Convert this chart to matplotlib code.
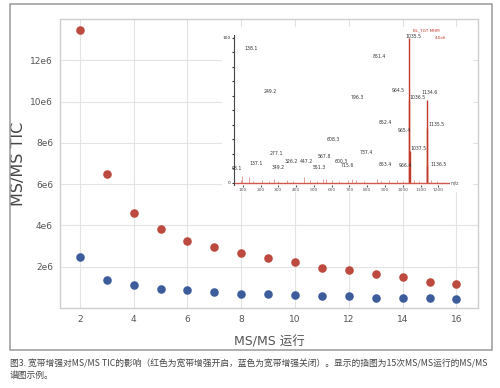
import matplotlib
matplotlib.use("Agg")
import matplotlib.pyplot as plt
from matplotlib.patches import Rectangle
from matplotlib.ticker import FuncFormatter

plt.rcParams['font.family'] = ['DejaVu Sans', 'Noto Sans CJK SC']

# 主图数据：MS/MS 运行次数 与 TIC
runs = [2, 3, 4, 5, 6, 7, 8, 9, 10, 11, 12, 13, 14, 15, 16]
tic_on = [13.45e6, 6.48e6, 4.59e6, 3.82e6, 3.23e6, 2.94e6, 2.67e6, 2.40e6,
          2.22e6, 1.94e6, 1.86e6, 1.67e6, 1.49e6, 1.26e6, 1.14e6]
tic_off = [2.46e6, 1.36e6, 1.10e6, 0.94e6, 0.86e6, 0.78e6, 0.70e6, 0.67e6,
           0.62e6, 0.57e6, 0.57e6, 0.50e6, 0.50e6, 0.48e6, 0.46e6]
x_ticks = [2, 4, 6, 8, 10, 12, 14, 16]
y_ticks = [2e6, 4e6, 6e6, 8e6, 10e6, 12e6]

# 插图：谱峰 (m/z, 相对强度)
peak_mz = [1035.5, 1036.5, 1037.5, 1134.6, 1135.5, 1136.5]
peak_int = [100, 57, 22, 57, 38, 12]
noise_mz = [88, 98, 137, 160, 210, 250, 277, 300, 349, 380, 447, 480, 520,
            551, 568, 600, 640, 690, 716, 737, 780, 853, 880, 920, 966, 1000,
            1060, 1090, 1160, 1190, 1230]
noise_int = [2, 5, 4, 1.5, 2, 1.5, 3, 1.5, 2, 1.5, 4, 2, 1.5, 3, 3, 2, 1.5,
             2, 3, 2, 1.5, 3, 1.5, 2, 2, 1.5, 2, 1.5, 2, 1.5, 1]
inset_ticks = [100, 200, 300, 400, 500, 600, 700, 800, 900, 1000, 1100, 1200]

label_text = ['138.1', '249.2', '796.3', '851.4', '964.5', '1035.5', '1134.6',
              '1036.5', '852.4', '965.4', '1135.5', '608.3', '277.1', '737.4',
              '1037.5', '326.2', '447.2', '567.8', '600.3', '349.2', '551.3',
              '715.6', '98.1', '137.1', '853.4', '966.4', '1136.5']
label_x = [145, 253, 746, 866, 972, 1057, 1152, 1085, 899, 1006, 1190, 607, 291,
           793, 1090, 372, 456, 557, 656, 300, 528, 690, 66, 175, 903, 1016, 1199]
label_y = [93, 63, 59, 87, 64, 101, 62.5, 58.6, 41.6, 36, 40, 30, 20.5, 21,
           23.5, 15, 14.7, 18, 15, 10.5, 11, 11.7, 10, 13.6, 13, 12, 13]

red = '#bc4a3e'
blue = '#3d5c9c'

fig = plt.figure(figsize=(5, 3.88), dpi=100)

# 外框
fig.patches.append(Rectangle((10 / 500, 1 - 350 / 388), 482 / 500, 346 / 388,
                             transform=fig.transFigure, fill=False,
                             edgecolor='#9a9a9a', linewidth=1.1, zorder=0))

ax = fig.add_axes([60 / 500, 1 - 308 / 388, 418 / 500, 289 / 388])
ax.scatter(runs, tic_on, s=38, color=red, zorder=3, linewidths=0)
ax.scatter(runs, tic_off, s=38, color=blue, zorder=3, linewidths=0)
ax.set_xlim(1.26, 16.8)
ax.set_ylim(0, 14e6)
ax.set_xticks(x_ticks)
ax.set_yticks(y_ticks)
ax.yaxis.set_major_formatter(FuncFormatter(lambda v, p: f"{int(round(v / 1e6))}e6"))
ax.tick_params(length=0, labelsize=6.5, colors='#555555', pad=5)
ax.grid(True, color='#e3e3e3', linewidth=0.8)
ax.set_axisbelow(True)
for s in ax.spines.values():
    s.set_color('#cfcfcf')
    s.set_linewidth(1.0)
ax.set_ylabel('MS/MS TIC', fontsize=11.5, color='#444444', labelpad=3)
ax.set_xlabel('MS/MS 运行', fontsize=9, color='#555555', labelpad=8)

# 插图白底
fig.patches.append(Rectangle((222 / 500, 1 - 192 / 388), 251 / 500, 165 / 388,
                             transform=fig.transFigure, facecolor='white',
                             edgecolor='none', zorder=1))

ins = fig.add_axes([234 / 500, 1 - 185 / 388, 216 / 500, 150 / 388], zorder=2)
ins.patch.set_alpha(0)
ins.vlines(noise_mz, 0, noise_int, color='#d9796f', linewidth=0.5)
ins.vlines(peak_mz, 0, peak_int, color='#c0392b', linewidth=1.0)
ins.axhline(0, color='#d0584c', linewidth=1.0)
ins.set_xlim(51, 1265)
ins.set_ylim(-1.4, 102)
ins.set_xticks(inset_ticks)
ins.set_yticks(range(0, 101, 10))
ins.set_yticklabels(['0'] + [''] * 9 + ['100'])
ins.tick_params(axis='x', length=1.5, labelsize=3.2, colors='#555555', pad=1)
ins.tick_params(axis='y', length=1.5, labelsize=3.2, colors='#333333', pad=1)
for side in ['top', 'right', 'bottom']:
    ins.spines[side].set_visible(False)
ins.spines['left'].set_color('#444444')
ins.spines['left'].set_linewidth(0.8)
for t, x, y in zip(label_text, label_x, label_y):
    ins.text(x, y, t, fontsize=3.3, color='#333333', ha='center', va='center')
ins.text(1268, 0, 'm/z', fontsize=3.3, color='#555555', ha='left', va='center')
ins.text(1058, 104, 'BL_TGT MHM', fontsize=3, color='#c0392b', ha='left', va='bottom')
ins.text(1215, 100, '4.0e6', fontsize=3, color='#c0392b', ha='center', va='center')

caption = ('图3. 宽带增强对MS/MS TIC的影响（红色为宽带增强开启，蓝色为宽带增强关闭）。'
           '显示的插图为15次MS/MS运行的MS/MS\n谱图示例。')
fig.text(10 / 500, 1 - 359 / 388, caption, fontsize=6.3, color='#444444',
         ha='left', va='top', linespacing=1.45,
         family=['Noto Sans CJK SC', 'DejaVu Sans'])

fig.savefig('out.png', dpi=100)
